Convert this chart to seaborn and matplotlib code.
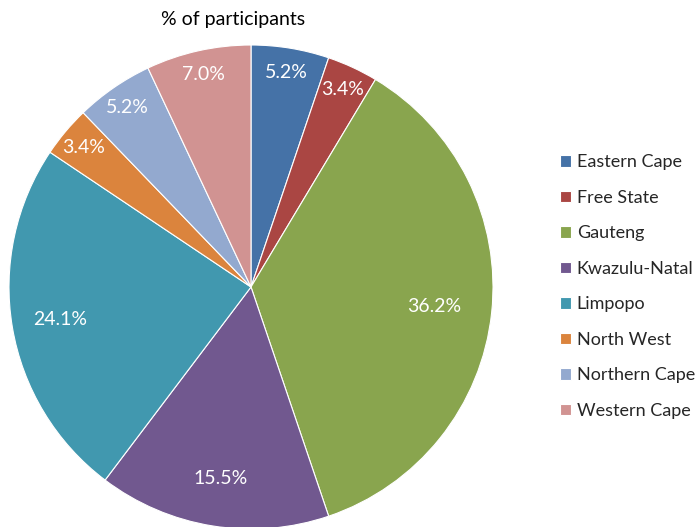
import matplotlib
matplotlib.use("Agg")
import matplotlib.pyplot as plt
import numpy as np
import seaborn as sns

regions = ["Eastern Cape", "Free State", "Gauteng", "Kwazulu-Natal",
           "Limpopo", "North West", "Northern Cape", "Western Cape"]
percent = [5.2, 3.4, 36.2, 15.5, 24.1, 3.4, 5.2, 7.0]
title = "% of participants"

sns.set_theme(style="white")
plt.rcParams['font.family'] = ['Lato', 'DejaVu Sans']
colors = sns.color_palette(["#4572A7", "#AA4643", "#89A54E", "#71588F",
                            "#4198AF", "#DB843D", "#93A9CF", "#D19392"])

W, H = 698, 527
fig = plt.figure(figsize=(W / 100, H / 100), dpi=100)
cx, cy, r = 251, 287, 242
ax = fig.add_axes([(cx - r) / W, (H - cy - r) / H, 2 * r / W, 2 * r / H])
wedges, texts, autotexts = ax.pie(
    percent, colors=colors, startangle=90, counterclock=False,
    autopct=lambda p: f"{p:.1f}%", pctdistance=0.8,
    wedgeprops=dict(edgecolor="white", linewidth=0.8),
    textprops=dict(color="white", fontsize=14))
# Excel-like "best fit": small slices get labels nearer the rim
for w, t, p in zip(wedges, autotexts, percent):
    d = 0.90 if p < 10 else (0.76 if p > 30 else 0.80)
    ang = np.deg2rad((w.theta1 + w.theta2) / 2)
    t.set_position((d * np.cos(ang), d * np.sin(ang)))
ax.set_xlim(-1, 1)
ax.set_ylim(-1, 1)
ax.set_aspect("equal")
ax.axis("off")

fig.text(233.5 / W, 1 - 19 / H, title, ha="center", va="center", fontsize=14, color="black")

fig.legend(wedges, regions, loc="center left", bbox_to_anchor=(553 / W, 1 - 286.5 / H),
           frameon=False, fontsize=13, handlelength=0.61, handleheight=0.61,
           handletextpad=0.3, labelspacing=1.08, borderaxespad=0)

fig.savefig("out.png", dpi=100)
